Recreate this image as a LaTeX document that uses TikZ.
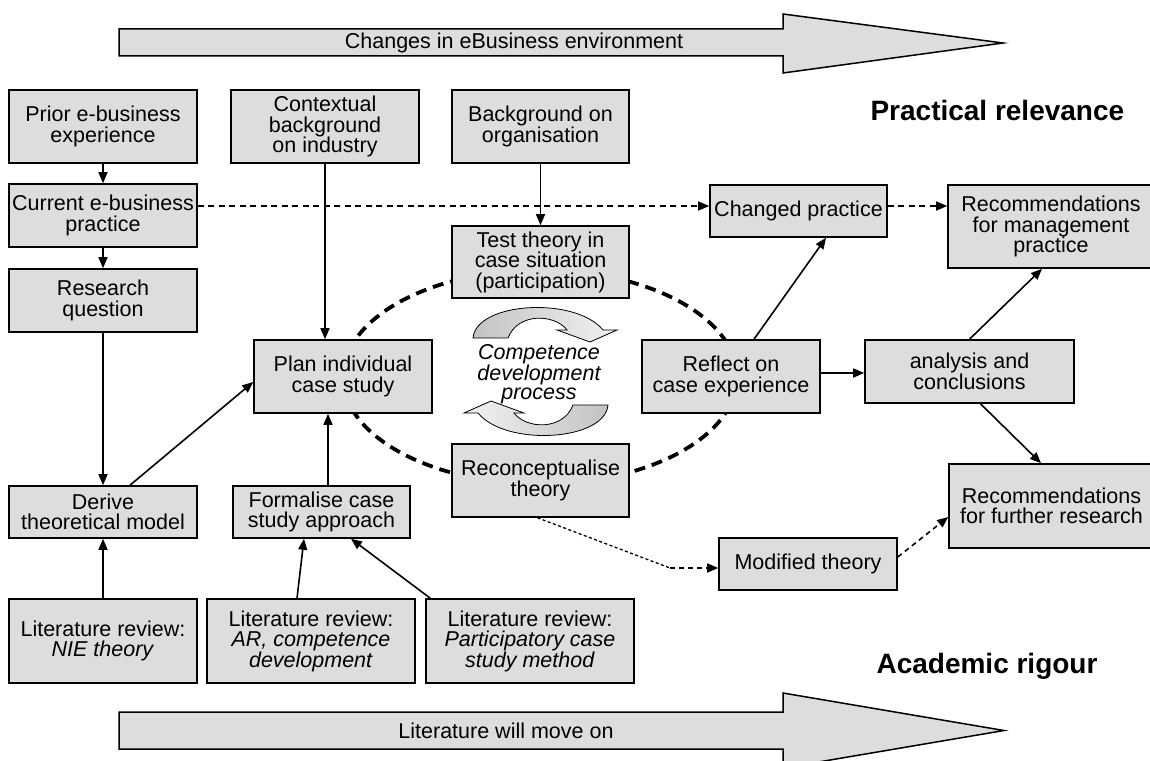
\documentclass[tikz,border=0pt]{standalone}
\usepackage{fontspec}
\setmainfont{Liberation Sans}
\usetikzlibrary{arrows.meta,calc}
\definecolor{boxgray}{RGB}{221,221,221}
\definecolor{bandgray}{RGB}{195,195,195}
\newcommand\bxfont{\fontsize{21.5}{20.5}\selectfont}
\newcommand\cyfont{\fontsize{21.5}{19.5}\selectfont\itshape}
\newcommand\hdfont{\fontsize{28}{30}\selectfont\bfseries}

\begin{document}
\begin{tikzpicture}[x=1pt,y=-1pt,
  box/.style={draw, fill=boxgray, line width=1.6pt, inner sep=0pt, align=center, font=\bxfont},
  conn/.style={line width=1.6pt, -{Triangle[length=11pt,width=9pt]}},
  dconn/.style={conn, dash pattern=on 6pt off 4.5pt},
  fconn/.style={conn, dash pattern=on 5pt off 4pt},
  dotline/.style={line width=1.3pt, dash pattern=on 3pt off 2.5pt},
  bigarrow/.style={draw, fill=boxgray, line width=1.5pt, line join=miter},
  cycleloop/.style={dash pattern=on 11pt off 7pt, line width=3.8pt},
  turn/.style={draw=black, line width=0.8pt}
]
\useasboundingbox (0,0) rectangle (1150,760);

% environment and literature trend arrows
\draw[bigarrow] (119,29) -- (783,29) -- (783,14) -- (1003,43) -- (783,73) -- (783,56) -- (119,56) -- cycle;
\node[font=\bxfont] (envtext) at (514,43) {Changes in eBusiness environment};
\draw[bigarrow] (119,712) -- (783,712) -- (783,693) -- (1004,730.5) -- (783,768) -- (783,749) -- (119,749) -- cycle;
\node[font=\bxfont] (littext) at (506,731) {Literature will move on};

% headings
\node[font=\hdfont, anchor=base west] (prac) at (867,120) {Practical relevance};
\node[font=\hdfont, anchor=base west] (acad) at (873,673) {Academic rigour};

% the competence development cycle
\draw[cycleloop] (540,377) ellipse [x radius=197pt, y radius=107pt];
\shadedraw[turn, left color=bandgray, middle color=black!80, right color=gray!10]
  (473,338) .. controls (476,302) and (575,296) .. (603,330) -- (617,330) -- (590,342)
  -- (557,330) -- (567,330) .. controls (555,314) and (518,312) .. (508,338) -- cycle;
\shadedraw[turn, left color=gray!10, middle color=black!80, right color=bandgray]
  (608,405) .. controls (605,441) and (506,447) .. (478,413) -- (464,413) -- (491,401)
  -- (524,413) -- (514,413) .. controls (526,429) and (563,431) .. (573,405) -- cycle;
\node[font=\cyfont, align=center, inner sep=0pt] (cdp) at (539,374) {Competence\\development\\process};

% boxes
\node[box, minimum width=188pt, minimum height=73pt] (prior) at (103,126.5) {Prior e-business\\experience};
\node[box, minimum width=188pt, minimum height=73pt] (context) at (325,126.5) {Contextual\\background\\on industry};
\node[box, minimum width=177pt, minimum height=73pt] (bgorg) at (540.5,126.5) {Background on\\organisation};
\node[box, minimum width=188pt, minimum height=63pt] (current) at (103,215.5) {Current e-business\\practice};
\node[box, minimum width=188pt, minimum height=63pt] (research) at (103,300.5) {Research\\question};
\node[box, minimum width=177pt, minimum height=72pt] (test) at (540.5,262) {Test theory in\\case situation\\(participation)};
\node[box, minimum width=177pt, minimum height=52pt] (changed) at (798.5,211) {Changed practice};
\node[box, minimum width=206pt, minimum height=83pt] (recmgmt) at (1051,226.5) {Recommendations\\for management\\practice};
\node[box, minimum width=178pt, minimum height=73pt] (plan) at (343,376.5) {Plan individual\\case study};
\node[box, minimum width=178pt, minimum height=73pt] (reflect) at (731,376.5) {Reflect on\\case experience};
\node[box, minimum width=209pt, minimum height=63pt] (analysis) at (969.5,371.5) {analysis and\\conclusions};
\node[box, minimum width=177pt, minimum height=73pt] (recon) at (540.5,480.5) {Reconceptualise\\theory};
\node[box, minimum width=205pt, minimum height=84pt] (recres) at (1051.5,506) {Recommendations\\for further research};
\node[box, minimum width=188pt, minimum height=52pt] (derive) at (103,512) {Derive\\theoretical model};
\node[box, minimum width=177pt, minimum height=52pt] (formalise) at (321.5,512) {Formalise case\\study approach};
\node[box, minimum width=178pt, minimum height=52pt] (modified) at (808,564) {Modified theory};
\node[box, minimum width=188pt, minimum height=84pt] (litnie) at (103,641) {Literature review:\\\textit{NIE theory}};
\node[box, minimum width=208pt, minimum height=84pt] (litar) at (311,641) {Literature review:\\\textit{AR, competence}\\\textit{development}};
\node[box, minimum width=208pt, minimum height=84pt] (litpart) at (530,641) {Literature review:\\\textit{Participatory case}\\\textit{study method}};

% solid connectors
\draw[conn] (prior) -- (current);
\draw[conn] (current) -- (research);
\draw[conn] (research) -- (derive);
\draw[conn] (context.south) -- (context.south |- plan.north);
\draw[conn] (bgorg) -- (test);
\draw[conn] ($(derive.north)+(27,0)$) -- ($(plan.west)+(0,5.5)$);
\coordinate (f1) at ($(formalise.north)+(6.5,0)$);
\draw[conn] (f1) -- (f1 |- plan.south);
\draw[conn] (litnie) -- (derive);
\draw[conn] ($(litar.north)+(-14,0)$) -- ($(formalise.south)+(-17.5,0)$);
\draw[conn] ($(litpart.north west)+(5,0)$) -- ($(formalise.south)+(29.5,0)$);
\draw[conn] ($(reflect.north)+(23,0)$) -- ($(changed.south)+(27.5,0)$);
\coordinate (r1) at ($(reflect.east)+(0,-3.5)$);
\draw[conn] (r1) -- (r1 -| analysis.west);
\draw[conn] (analysis.north) -- ($(recmgmt.south)+(-9,0)$);
\draw[conn] ($(analysis.south)+(11,0)$) -- ($(recres.north)+(-10.5,0)$);

% dashed connectors
\coordinate (c1) at ($(current.east)+(0,-9.5)$);
\draw[dconn] (c1) -- (c1 -| changed.west);
\coordinate (c2) at ($(changed.east)+(0,-5)$);
\draw[dconn] (c2) -- (c2 -| recmgmt.west);
\coordinate (bend) at (670,568);
\draw[dotline] ($(recon.south)+(-3,0)$) -- (bend);
\draw[fconn] (bend) -- ($(modified.west)+(0,4)$);
\draw[fconn] ($(modified.east)+(0,-7)$) -- ($(recres.west)+(0,11)$);
\end{tikzpicture}
\end{document}
